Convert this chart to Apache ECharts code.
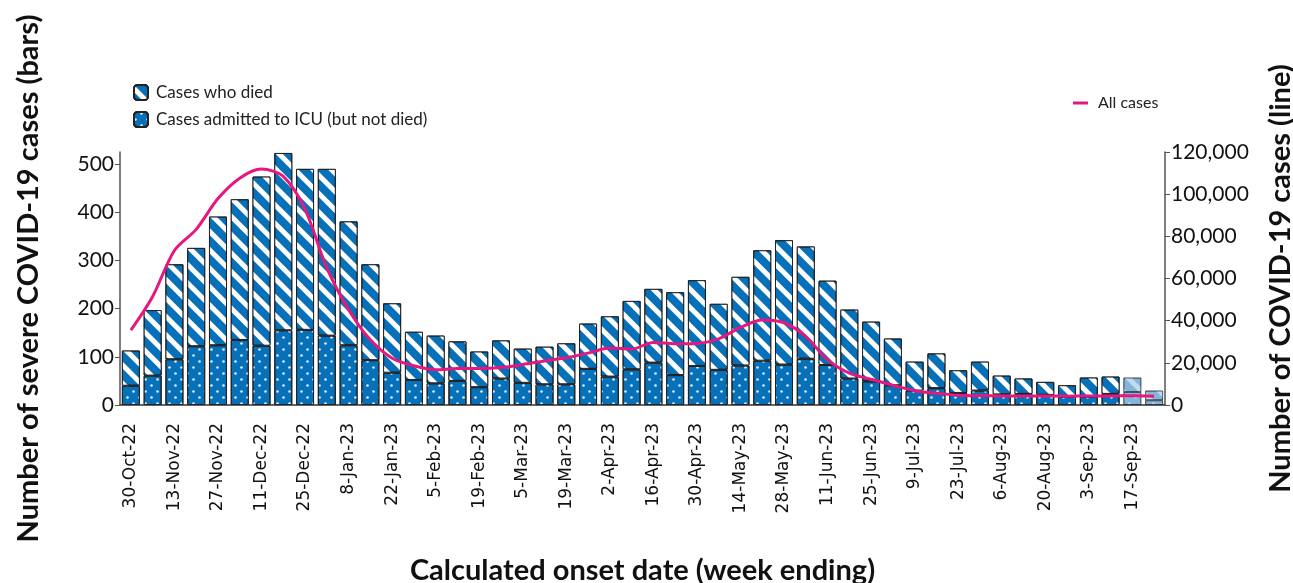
<!DOCTYPE html>
<html>
<head>
<meta charset="utf-8">
<script src="https://cdn.jsdelivr.net/npm/echarts@6/dist/echarts.min.js"></script>
<style>
  html, body { margin: 0; padding: 0; background: #fff; }
  #chart { width: 1293px; height: 583px; }
</style>
</head>
<body>
<div id="chart"></div>
<script>
// week ending dates
var weeks = [
  "30-Oct-22", "6-Nov-22", "13-Nov-22", "20-Nov-22", "27-Nov-22", "4-Dec-22",
  "11-Dec-22", "18-Dec-22", "25-Dec-22", "1-Jan-23", "8-Jan-23", "15-Jan-23",
  "22-Jan-23", "29-Jan-23", "5-Feb-23", "12-Feb-23", "19-Feb-23", "26-Feb-23",
  "5-Mar-23", "12-Mar-23", "19-Mar-23", "26-Mar-23", "2-Apr-23", "9-Apr-23",
  "16-Apr-23", "23-Apr-23", "30-Apr-23", "7-May-23", "14-May-23", "21-May-23",
  "28-May-23", "4-Jun-23", "11-Jun-23", "18-Jun-23", "25-Jun-23", "2-Jul-23",
  "9-Jul-23", "16-Jul-23", "23-Jul-23", "30-Jul-23", "6-Aug-23", "13-Aug-23",
  "20-Aug-23", "27-Aug-23", "3-Sep-23", "10-Sep-23", "17-Sep-23", "24-Sep-23"
];

// cases admitted to ICU (but not died)
var icuCases = [
  40, 61, 95, 122, 124, 135, 123, 155, 156, 144, 124, 93,
  67, 52, 45, 50, 37, 55, 46, 43, 43, 75, 59, 74,
  88, 62, 81, 73, 82, 92, 84, 96, 83, 55, 49, 41,
  30, 35, 25, 30, 22, 23, 21, 17, 17, 23, 27, 10
];

// cases who died
var diedCases = [
  73, 136, 197, 204, 267, 292, 351, 368, 334, 346, 257, 199,
  144, 100, 99, 82, 74, 79, 71, 78, 85, 94, 125, 142,
  153, 172, 178, 137, 184, 229, 258, 233, 175, 143, 124, 97,
  60, 72, 47, 60, 39, 32, 27, 24, 40, 36, 30, 20
];

// all cases (line, right axis)
var allCases = [
  35500, 51500, 73300, 83300, 97900, 107600, 111900, 108400, 92800, 65000, 45200, 30900,
  22200, 18600, 16700, 17300, 17300, 17800, 19200, 20900, 22400, 24600, 27000, 26500,
  29700, 29000, 29200, 31400, 36800, 40300, 39000, 32500, 21400, 15100, 12200, 9400,
  6800, 5600, 4600, 4400, 4300, 4300, 4300, 4200, 4300, 4300, 4400, 4200
];

// last weeks are incomplete, drawn faded
var provisionalWeeks = 2;

var leftTicks = [0, 100, 200, 300, 400, 500];

var blue = "#0670b8";
var pink = "#e6177e";
var font = "Lato, 'Noto Sans', sans-serif";

var stripeDecal = {
  symbol: "rect",
  color: "#ffffff",
  dashArrayX: [1, 0],
  dashArrayY: [5, 7.5],
  rotation: Math.PI / 4
};
var dotDecal = {
  symbol: "circle",
  color: "rgba(255,255,255,0.85)",
  symbolSize: 0.9,
  dashArrayX: [[3, 9], [0, 6, 3, 3]],
  dashArrayY: [3, 3]
};

function withFade(arr) {
  return arr.map(function (v, i) {
    if (i >= arr.length - provisionalWeeks) {
      return { value: v, itemStyle: { opacity: 0.5 } };
    }
    return v;
  });
}

var chart = echarts.init(document.getElementById("chart"));
chart.setOption({
  animation: false,
  textStyle: { fontFamily: font },
  grid: {
    left: 120, right: 128, top: 152, bottom: 178,
    containLabel: false,
    outerBoundsMode: "none"
  },
  legend: [
    {
      orient: "vertical",
      left: 133,
      top: 84,
      padding: 0,
      itemWidth: 14,
      itemHeight: 15,
      itemGap: 10,
      textStyle: { fontSize: 17, color: "#222", fontFamily: font, padding: [0, 0, 0, 3] },
      data: ["Cases who died", "Cases admitted to ICU (but not died)"]
    },
    {
      left: 1073,
      top: 95,
      padding: 0,
      itemWidth: 15,
      itemHeight: 3,
      textStyle: { fontSize: 16, color: "#222", fontFamily: font, padding: [0, 0, 0, 5] },
      data: [{ name: "All cases", icon: "rect" }]
    }
  ],
  xAxis: {
    type: "category",
    data: weeks,
    name: "Calculated onset date (week ending)",
    nameLocation: "middle",
    nameGap: 151,
    nameTextStyle: { fontSize: 29, fontWeight: "bold", color: "#111", fontFamily: font },
    axisLine: { lineStyle: { color: "#333", width: 1.5 } },
    axisTick: { alignWithLabel: true, interval: 1, length: 8, lineStyle: { color: "#555" } },
    axisLabel: {
      interval: 1,
      rotate: 90,
      margin: 18,
      fontSize: 17,
      color: "#111",
      fontFamily: "'DejaVu Sans', sans-serif"
    }
  },
  yAxis: [
    {
      type: "value",
      min: 0,
      max: 525,
      name: "Number of severe COVID-19 cases (bars)",
      nameLocation: "middle",
      nameRotate: 90,
      nameGap: 77,
      nameTextStyle: { fontSize: 29, fontWeight: "bold", color: "#111", fontFamily: font },
      splitLine: { show: false },
      axisLine: { show: true, lineStyle: { color: "#555", width: 1.5 } },
      axisTick: { show: true, length: 5, customValues: leftTicks, lineStyle: { color: "#555" } },
      axisLabel: { fontSize: 21, color: "#111", margin: 6, customValues: leftTicks }
    },
    {
      type: "value",
      min: 0,
      max: 120000,
      interval: 20000,
      name: "Number of COVID-19 cases (line)",
      nameLocation: "middle",
      nameRotate: 90,
      nameGap: 101,
      nameTextStyle: { fontSize: 29, fontWeight: "bold", color: "#111", fontFamily: font },
      splitLine: { show: false },
      axisLine: { show: true, lineStyle: { color: "#555", width: 1.5 } },
      axisTick: { show: true, length: 5, lineStyle: { color: "#555" } },
      axisLabel: {
        fontSize: 21,
        color: "#111",
        margin: 6,
        formatter: function (v) { return v.toLocaleString("en-US"); }
      }
    }
  ],
  series: [
    {
      name: "Cases admitted to ICU (but not died)",
      type: "bar",
      stack: "severe",
      barWidth: 18,
      data: withFade(icuCases),
      itemStyle: { color: blue, borderColor: "#222", borderWidth: 1, decal: dotDecal }
    },
    {
      name: "Cases who died",
      type: "bar",
      stack: "severe",
      barWidth: 18,
      data: withFade(diedCases),
      itemStyle: { color: blue, borderColor: "#222", borderWidth: 1, decal: stripeDecal }
    },
    {
      name: "All cases",
      type: "line",
      yAxisIndex: 1,
      smooth: 0.3,
      showSymbol: false,
      symbol: "none",
      data: allCases,
      z: 5,
      itemStyle: { color: pink },
      lineStyle: { color: pink, width: 3 }
    }
  ]
});
</script>
</body>
</html>
